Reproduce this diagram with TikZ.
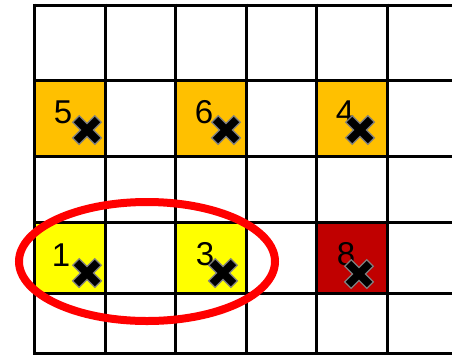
\documentclass[tikz,border=0pt]{standalone}
\usepackage{fontspec}
\setmainfont{Liberation Sans}
\usepackage{tikz}
\usepackage{xcolor}
\definecolor{cellorange}{HTML}{FFC000}
\definecolor{cellyellow}{HTML}{FFFF00}
\definecolor{cellred}{HTML}{C00000}
\definecolor{markgray}{HTML}{7F7F7F}

\begin{document}
\begin{tikzpicture}[x=1pt,y=-1pt,
  num/.style={font=\fontsize{33}{36}\selectfont,inner sep=0pt},
  xmark/.pic={
    \draw[markgray,line width=10.5pt](-11.5,-11.5)--(11.5,11.5) (-11.5,11.5)--(11.5,-11.5);
    \draw[black,line width=7.5pt](-10.5,-10.5)--(10.5,10.5) (-10.5,10.5)--(10.5,-10.5);}]
\useasboundingbox(0,0)rectangle(452,354);
\clip(0,0)rectangle(452,354);
% coloured cells
\fill[cellorange](34.5,80)rectangle(105,156)
(175.5,80)rectangle(246,156)
(316.5,80)rectangle(387,156);
\fill[cellyellow](34.5,222)rectangle(105,293)
(175.5,222)rectangle(246,293);
\fill[cellred](316.5,222)rectangle(387,293);
% grid
\foreach \x in {34.5,105,175.5,246,316.5,387}
  \draw[line width=3pt](\x,3.5)--(\x,354);
\foreach \y in {5,80,156,222,293,353.5}
  \draw[line width=3pt](33,\y)--(452,\y);
% numbers and marks
\node[num](n5)at(63,112){5};
\node[num](n6)at(204,112){6};
\node[num](n4)at(345,112){4};
\node[num](n1)at(61,255){1};
\node[num](n3)at(205,254){3};
\node[num](n8)at(346,254){8};
\pic(x5)at(87,130){xmark};
\pic(x6)at(226,130){xmark};
\pic(x4)at(360,130){xmark};
\pic(x1)at(87,273){xmark};
\pic(x3)at(223,273){xmark};
\pic(x8)at(359,274){xmark};
% selection
\draw[red,line width=8pt](147,261.5)ellipse[x radius=128,y radius=59.5];
\end{tikzpicture}
\end{document}
